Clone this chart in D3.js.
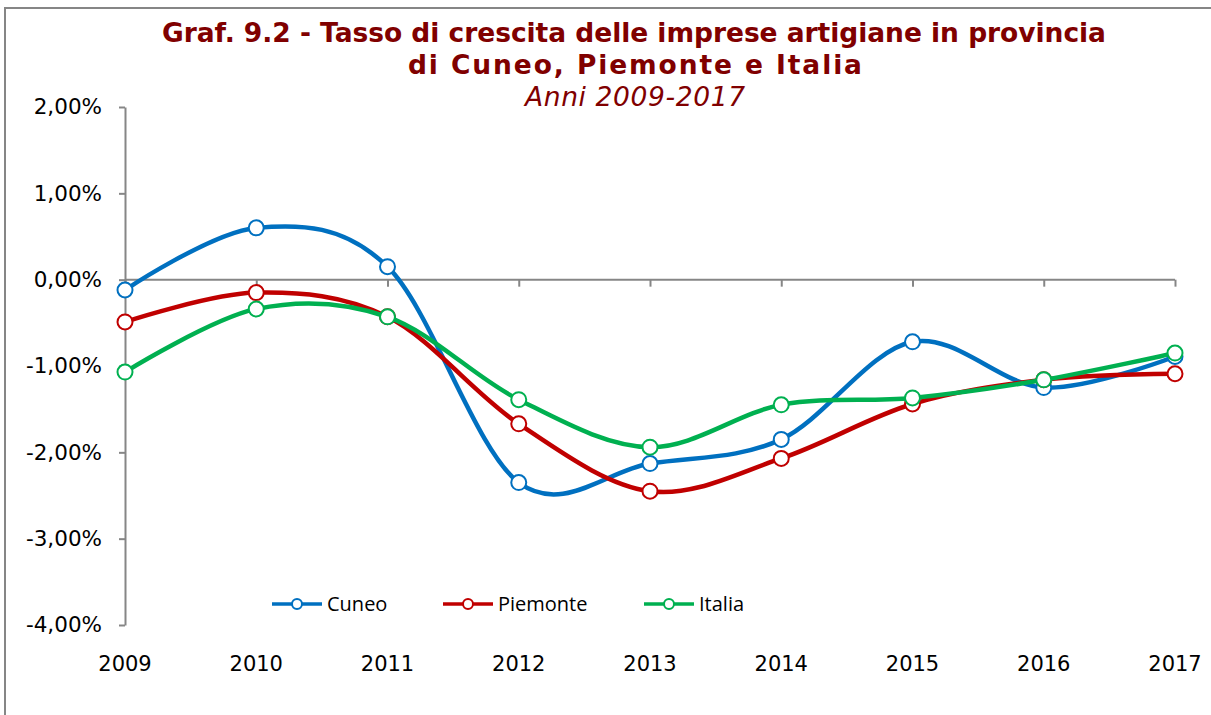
<!DOCTYPE html>
<html lang="it">
<head>
<meta charset="UTF-8">
<title>Tasso di crescita delle imprese artigiane</title>
<style>
    body { margin: 0; background: #fff; }
    .axis path, .axis line { stroke: #868686; stroke-width: 2; fill: none; }
    .tick text { font-family: "DejaVu Sans", Verdana, sans-serif; font-size: 21.5px; fill: #000; }
</style>
</head>
<body>
<svg width="1211" height="715"></svg>
<script src="https://d3js.org/d3.v7.min.js"></script>
<script>
var years = [2009, 2010, 2011, 2012, 2013, 2014, 2015, 2016, 2017];
var cuneo    = [-0.12, 0.60, 0.15, -2.35, -2.13, -1.85, -0.72, -1.25, -0.89];
var piemonte = [-0.49, -0.15, -0.43, -1.67, -2.45, -2.07, -1.44, -1.16, -1.09];
var italia   = [-1.07, -0.34, -0.43, -1.39, -1.94, -1.45, -1.37, -1.16, -0.85];
var seriesNames = ["Cuneo", "Piemonte", "Italia"];
var yTicks = [2, 1, 0, -1, -2, -3, -4];

var colors = {Cuneo: "#0070C0", Piemonte: "#C00000", Italia: "#00B050"};
var series = [
    {name: "Cuneo", values: cuneo},
    {name: "Piemonte", values: piemonte},
    {name: "Italia", values: italia}
];

var svg = d3.select("svg");

// chart frame
svg.append("rect")
    .attr("x", 5).attr("y", 8)
    .attr("width", 1220).attr("height", 720)
    .attr("fill", "none").attr("stroke", "#868686").attr("stroke-width", 2);

var x = d3.scalePoint().domain(years).range([125, 1175]);
var y = d3.scaleLinear().domain([-4, 2]).range([625, 107]);

// title
var title = svg.append("g").attr("font-family", "'DejaVu Sans', Verdana, sans-serif")
    .attr("fill", "#800000").attr("text-anchor", "middle");
title.append("text").attr("x", 634).attr("y", 42)
    .attr("font-size", "26.5px").attr("font-weight", "bold")
    .attr("textLength", 944).attr("lengthAdjust", "spacing")
    .text("Graf. 9.2 - Tasso di crescita delle imprese artigiane in provincia");
title.append("text").attr("x", 635).attr("y", 74)
    .attr("font-size", "26.5px").attr("font-weight", "bold")
    .attr("textLength", 454).attr("lengthAdjust", "spacing")
    .text("di Cuneo, Piemonte e Italia");
title.append("text").attr("x", 635).attr("y", 106)
    .attr("font-size", "26.5px").attr("font-style", "italic")
    .attr("textLength", 220).attr("lengthAdjust", "spacing")
    .text("Anni 2009-2017");

// y axis
svg.append("g")
    .attr("class", "axis")
    .attr("transform", "translate(125,0)")
    .call(d3.axisLeft(y).tickValues(yTicks).tickSize(6).tickSizeOuter(0).tickPadding(17)
        .tickFormat(function(d){ return d.toFixed(2).replace(".", ",") + "%"; }));

// x axis on the zero line
var xAxis = svg.append("g")
    .attr("class", "axis")
    .attr("transform", "translate(0," + y(0) + ")")
    .call(d3.axisBottom(x).tickSize(7).tickSizeOuter(0).tickFormat(""));
xAxis.select(".domain").attr("d", "M125,0H1175");

// year labels at bottom
svg.append("g").selectAll("text")
    .data(years)
    .enter().append("text")
    .attr("x", function(d){ return x(d); })
    .attr("y", 671)
    .attr("text-anchor", "middle")
    .attr("font-family", "'DejaVu Sans', Verdana, sans-serif")
    .attr("font-size", "21px")
    .text(function(d){ return d; });

var line = d3.line()
    .x(function(d, i){ return x(years[i]); })
    .y(function(d){ return y(d); })
    .curve(d3.curveCardinal.tension(0));

var g = svg.selectAll(".series")
    .data(series)
    .enter().append("g")
    .attr("class", "series");

g.append("path")
    .attr("d", function(d){ return line(d.values); })
    .attr("fill", "none")
    .attr("stroke", function(d){ return colors[d.name]; })
    .attr("stroke-width", 4.5);

g.selectAll("circle")
    .data(function(d){ return d.values.map(function(v, i){ return {name: d.name, v: v, i: i}; }); })
    .enter().append("circle")
    .attr("cx", function(d){ return x(years[d.i]); })
    .attr("cy", function(d){ return y(d.v); })
    .attr("r", 7.5)
    .attr("fill", "#fff")
    .attr("stroke", function(d){ return colors[d.name]; })
    .attr("stroke-width", 2);

// legend
var legendX = [272, 443, 644];
var legend = svg.selectAll(".legend")
    .data(seriesNames)
    .enter().append("g")
    .attr("class", "legend")
    .attr("transform", function(d, i){ return "translate(" + legendX[i] + ",604)"; });

legend.append("line")
    .attr("x1", 0).attr("x2", 50)
    .attr("stroke", function(d){ return colors[d]; })
    .attr("stroke-width", 3.5);
legend.append("circle")
    .attr("cx", 25).attr("r", 5)
    .attr("fill", "#fff")
    .attr("stroke", function(d){ return colors[d]; })
    .attr("stroke-width", 2);
legend.append("text")
    .attr("x", 55).attr("y", 7)
    .attr("font-family", "'Open Sans', 'Noto Sans', sans-serif")
    .attr("font-size", "20px")
    .text(function(d){ return d; });
</script>
</body>
</html>
